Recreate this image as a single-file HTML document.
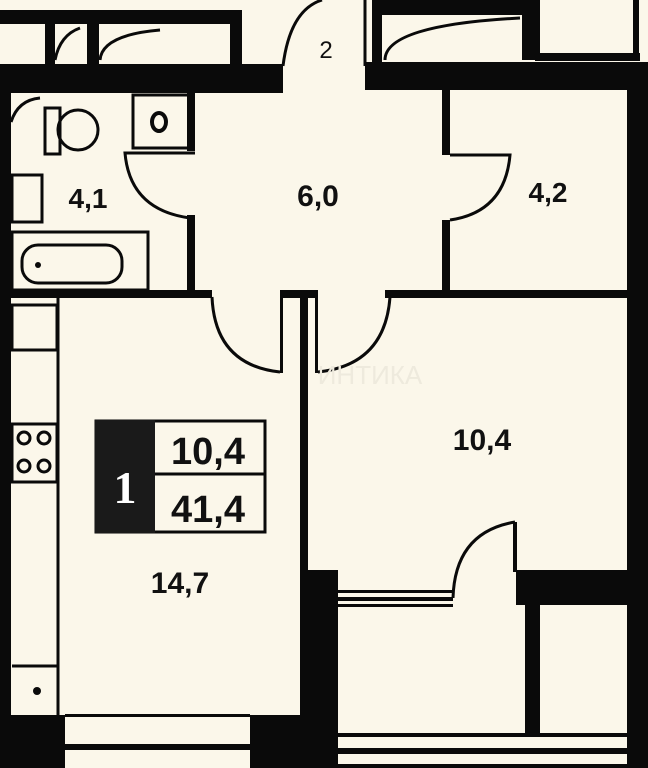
<!DOCTYPE html>
<html><head><meta charset="utf-8"><style>
html,body{margin:0;padding:0;background:#fbf7ea;}
svg{display:block}
text{font-family:"Liberation Sans",sans-serif;font-weight:bold;fill:#111}
</style></head><body>
<svg width="648" height="768" viewBox="0 0 648 768" xmlns="http://www.w3.org/2000/svg">
<rect width="648" height="768" fill="#fbf7ea"/>
<g fill="#0a0a0a">
<!-- top left balcony frame -->
<rect x="0" y="10" width="242" height="14"/>
<rect x="230" y="10" width="12" height="60"/>
<rect x="45" y="20" width="10" height="50"/>
<rect x="87" y="20" width="12" height="50"/>
<rect x="0" y="64" width="283" height="29"/>
<!-- top right -->
<rect x="372" y="0" width="168" height="15"/>
<rect x="372" y="0" width="10" height="65"/>
<rect x="522" y="0" width="18" height="60"/>
<rect x="535" y="53" width="105" height="8"/>
<rect x="633" y="0" width="6" height="60"/>
<rect x="365" y="62" width="283" height="28"/>
<!-- right outer wall -->
<rect x="627" y="85" width="21" height="683"/>
<!-- left outer wall -->
<rect x="0" y="93" width="11" height="675"/>
<!-- hall walls -->
<rect x="187" y="93" width="8" height="58"/>
<rect x="187" y="215" width="8" height="80"/>
<rect x="442" y="90" width="8" height="65"/>
<rect x="442" y="220" width="8" height="75"/>
<rect x="10" y="290" width="202" height="8"/>
<rect x="385" y="290" width="245" height="8"/>
<!-- partition -->
<rect x="280" y="290" width="38" height="8"/>
<rect x="280" y="290" width="3" height="83"/>
<rect x="315" y="290" width="3" height="83"/>
<rect x="300" y="295" width="8" height="473"/>
<!-- bottom left -->
<rect x="0" y="715" width="65" height="53"/>
<rect x="250" y="715" width="55" height="53"/>
<rect x="65" y="714" width="185" height="3"/>
<rect x="65" y="744" width="185" height="6"/>
<!-- bedroom bottom -->
<rect x="305" y="570" width="33" height="198"/>
<rect x="516" y="570" width="112" height="35"/>
<rect x="525" y="600" width="15" height="135"/>
<rect x="338" y="733" width="290" height="4"/>
<rect x="338" y="748" width="290" height="6"/>
<rect x="338" y="764" width="290" height="4"/>
<rect x="338" y="590" width="115" height="3"/>
<rect x="338" y="597" width="115" height="4"/>
<rect x="338" y="604" width="115" height="3"/>
<rect x="513" y="522" width="4" height="50"/>
</g>
<g fill="none" stroke="#0a0a0a" stroke-width="3">
<!-- balcony inner lines -->
<path d="M55 60 Q60 35 80 28"/><path d="M100 60 Q102 35 160 30"/>
<path d="M385 60 Q385 25 520 18"/>
<!-- entry door arc -->
<path d="M283 66 Q290 10 322 0"/>
<path d="M365 66 L365 0"/>
<!-- bathroom fixtures -->
<rect x="133" y="95" width="57" height="53"/>
<ellipse cx="159" cy="122" rx="7" ry="9" stroke-width="4"/>
<circle cx="78" cy="130" r="20"/>
<rect x="45" y="108" width="15" height="46"/>
<path d="M11 122 Q18 100 40 98"/>
<rect x="12" y="175" width="30" height="47"/>
<rect x="12" y="232" width="136" height="58"/>
<rect x="22" y="245" width="100" height="38" rx="16"/>
<!-- door arcs -->
<path d="M195 153 L125 153 Q130 210 190 218"/>
<path d="M450 155 L510 155 Q505 212 450 220"/>
<path d="M212 297 Q215 365 280 372"/>
<path d="M390 297 Q385 365 318 372"/>
<path d="M453 598 Q455 532 515 522"/>
<!-- kitchen -->
<line x1="58" y1="298" x2="58" y2="715"/>
<rect x="12" y="305" width="45" height="45"/>
<rect x="12" y="424" width="45" height="58"/>
<circle cx="24" cy="438" r="6"/><circle cx="44" cy="438" r="6"/>
<circle cx="24" cy="466" r="6"/><circle cx="44" cy="466" r="6"/>
<line x1="12" y1="666" x2="58" y2="666"/>
<!-- info box -->
<rect x="96" y="421" width="169" height="111"/>
<line x1="155" y1="474" x2="265" y2="474"/>
</g>
<circle cx="37" cy="691" r="4" fill="#0a0a0a"/>
<circle cx="38" cy="265" r="3" fill="#0a0a0a"/>
<rect x="95" y="420" width="60" height="113" fill="#1a1a1a"/>
<text x="125" y="503" text-anchor="middle" font-size="46" style="fill:#fff;font-family:'Liberation Serif',serif">1</text>
<text x="208" y="464" text-anchor="middle" font-size="38">10,4</text>
<text x="208" y="522" text-anchor="middle" font-size="38">41,4</text>
<text x="180" y="593" text-anchor="middle" font-size="30">14,7</text>
<text x="482" y="450" text-anchor="middle" font-size="30">10,4</text>
<text x="318" y="206" text-anchor="middle" font-size="30">6,0</text>
<text x="88" y="208" text-anchor="middle" font-size="28">4,1</text>
<text x="548" y="202" text-anchor="middle" font-size="28">4,2</text>
<text x="326" y="58" text-anchor="middle" font-size="24" style="font-weight:normal">2</text>
<text x="370" y="384" text-anchor="middle" font-size="26" style="fill:#eeeadd;font-weight:normal">ИНТИКА</text>
</svg>
</body></html>
